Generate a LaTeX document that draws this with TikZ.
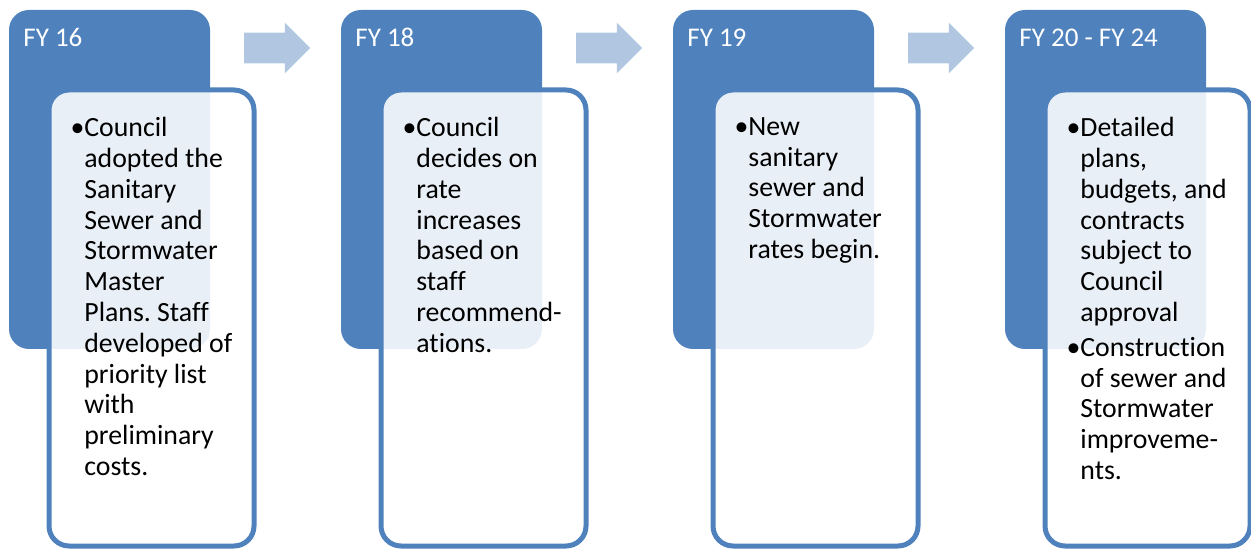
\documentclass[tikz,border=0pt]{standalone}
\usepackage{fontspec}
\setmainfont{Carlito}[Ligatures=NoCommon]
\frenchspacing
\usetikzlibrary{shapes.arrows,calc}
\definecolor{accent}{HTML}{4F81BD}

\tikzset{
  hdrbox/.style={fill=accent, rounded corners=10pt, minimum width=100.5pt,
    minimum height=169.5pt, inner sep=0pt, outer sep=0pt, anchor=north west},
  bodybox/.style={draw=accent, line width=2.5pt, fill=white, fill opacity=0.88,
    draw opacity=1, rounded corners=10pt, minimum width=102.5pt,
    minimum height=228pt, inner sep=0pt, outer sep=0pt, anchor=north west},
  steparrow/.style={single arrow, fill=accent!45, inner sep=7.5pt,
    single arrow head extend=5pt, minimum height=33pt,
    single arrow tip angle=90, single arrow head indent=0pt},
  yrtext/.style={text=white, font=\fontsize{13.5}{16}\selectfont,
    anchor=base west, inner sep=0pt},
  bodytext/.style={align=left, font=\fontsize{13.9}{15.4}\selectfont,
    anchor=north west, inner sep=0pt}
}

\begin{document}
\begin{tikzpicture}[x=0.5pt,y=-0.5pt]
  \useasboundingbox (0,0) rectangle (1251,549);
  % boxes of the four steps
  \foreach \i/\yr in {1/FY 16, 2/FY 18, 3/FY 19, 4/FY 20 - FY 24}
  {
    \node[hdrbox] (hdr\i) at ({9+332*(\i-1)},10) {};
    \node[bodybox] (body\i) at ({49+332*(\i-1)},90) {};
    \node[yrtext] (yr\i) at ($(hdr\i.north west)+(14,37)$) {\yr};
  }
  % arrows between the steps
  \foreach \i/\j in {1/2, 2/3, 3/4}
    \node[steparrow] (arr\i) at ($(hdr\i.north east)!0.5!(hdr\j.north west)+(-6,38)$) {};
  % texts
  \node[bodytext] (txt1) at ($(body1.north west)+(35,27)$)
    {\llap{•}Council\\adopted the\\Sanitary\\Sewer and\\Stormwater\\Master\\Plans. Staff\\developed of\\priority list\\with\\preliminary\\costs.};
  \node[bodytext] (txt2) at ($(body2.north west)+(35,27)$)
    {\llap{•}Council\\decides on\\rate\\increases\\based on\\staff\\recommend-\\ations.};
  \node[bodytext] (txt3) at ($(body3.north west)+(35,27)$)
    {\llap{•}New\\sanitary\\sewer and\\Stormwater\\rates begin.};
  \node[bodytext] (txt4) at ($(body4.north west)+(35,27)$)
    {\llap{•}Detailed\\plans,\\budgets, and\\contracts\\subject to\\Council\\approval\\[2pt]\llap{•}Construction\\of sewer and\\Stormwater\\improveme-\\nts.};
\end{tikzpicture}
\end{document}
